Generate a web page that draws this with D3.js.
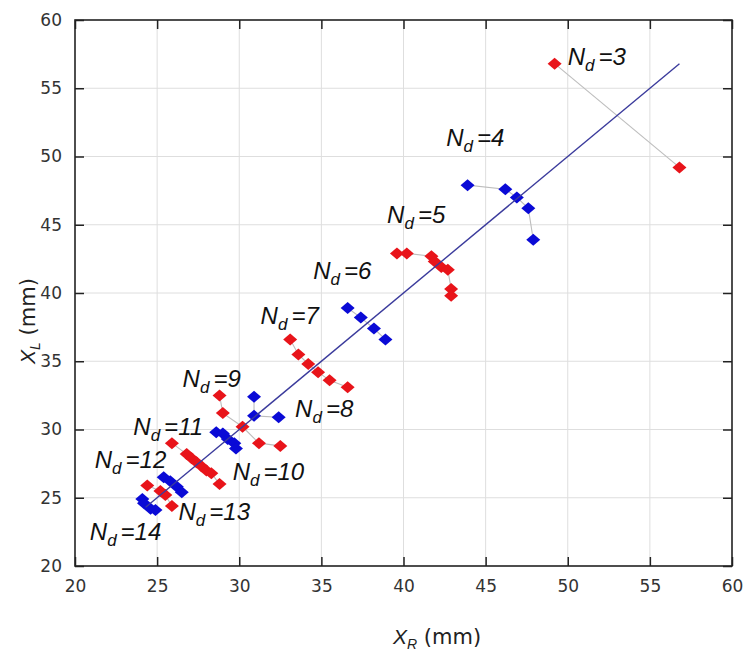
<!DOCTYPE html>
<html><head><meta charset="utf-8">
<script src="https://cdn.jsdelivr.net/npm/d3@7"></script>
<style>body{margin:0;background:#fff}</style>
</head><body>
<svg id="c" width="750" height="655"></svg>
<script>
// ---- data ----
const xTicks = [20,25,30,35,40,45,50,55,60];
const yTicks = [20,25,30,35,40,45,50,55,60];
const nd3  = [[49.2,56.8],[56.8,49.2]];
const nd4  = [[43.9,47.9],[46.2,47.6],[46.9,47.0],[47.6,46.2],[47.9,43.9]];
const nd5  = [[39.6,42.9],[40.2,42.9],[41.7,42.7],[41.9,42.3],[42.3,41.9],[42.7,41.7],[42.9,40.3],[42.9,39.8]];
const nd6  = [[36.6,38.9],[37.4,38.2],[38.2,37.4],[38.9,36.6]];
const nd7  = [[33.1,36.6],[33.6,35.5],[34.2,34.8],[34.8,34.2],[35.5,33.6],[36.6,33.1]];
const nd8  = [[30.9,32.4],[30.9,31.0],[32.4,30.9]];
const nd9  = [[28.8,32.5],[29.0,31.2],[30.2,30.2],[31.2,29.0],[32.5,28.8]];
const nd10 = [[28.6,29.8],[29.0,29.7],[29.3,29.3],[29.7,29.0],[29.8,28.6]];
const nd11 = [[25.9,29.0],[26.8,28.2],[27.1,27.9],[27.4,27.6],[27.7,27.3],[28.0,27.0],[28.3,26.8],[28.8,26.0]];
const nd12 = [[25.4,26.5],[25.8,26.2],[26.2,25.8],[26.5,25.4]];
const nd13 = [[24.4,25.9],[25.2,25.5],[25.5,25.2],[25.9,24.4]];
const nd14 = [[24.1,24.9],[24.2,24.6],[24.6,24.2],[24.9,24.1]];
const groups = [
  {nd:3, pts:nd3, lab:[50.0,56.7]},
  {nd:4, pts:nd4, lab:[42.6,50.8]},
  {nd:5, pts:nd5, lab:[39.0,45.1]},
  {nd:6, pts:nd6, lab:[34.5,41.0]},
  {nd:7, pts:nd7, lab:[31.3,37.7]},
  {nd:8, pts:nd8, lab:[33.4,30.9]},
  {nd:9, pts:nd9, lab:[26.55,33.1]},
  {nd:10, pts:nd10, lab:[29.6,26.3]},
  {nd:11, pts:nd11, lab:[23.55,29.6]},
  {nd:12, pts:nd12, lab:[21.2,27.2]},
  {nd:13, pts:nd13, lab:[26.3,23.4]},
  {nd:14, pts:nd14, lab:[20.9,21.9]}
];
const fitLine = [[24.3,24.3],[56.8,56.8]];

// ---- chart ----
const svg = d3.select("#c");
const L=75, R=732, T=20, B=566;
const x = d3.scaleLinear().domain([20,60]).range([L,R]);
const y = d3.scaleLinear().domain([20,60]).range([B,T]);
const RED="#e8141a", BLUE="#0a0ad6";

// grid
svg.append("g").selectAll("line").data(xTicks.slice(1,-1)).join("line")
  .attr("x1",d=>x(d)).attr("x2",d=>x(d)).attr("y1",T).attr("y2",B)
  .attr("stroke","#dedede").attr("stroke-width",1);
svg.append("g").selectAll("line").data(yTicks.slice(1,-1)).join("line")
  .attr("y1",d=>y(d)).attr("y2",d=>y(d)).attr("x1",L).attr("x2",R)
  .attr("stroke","#dedede").attr("stroke-width",1);

// axes with inward ticks
const tk=9;
const axB = svg.append("g").attr("transform",`translate(0,${B})`)
  .call(d3.axisBottom(x).tickValues(xTicks).tickSize(-tk).tickPadding(14).tickFormat(d3.format("d")));
const axT = svg.append("g").attr("transform",`translate(0,${T})`)
  .call(d3.axisTop(x).tickValues(xTicks).tickSize(-tk).tickFormat(""));
const axL = svg.append("g").attr("transform",`translate(${L},0)`)
  .call(d3.axisLeft(y).tickValues(yTicks).tickSize(-tk).tickPadding(13).tickFormat(d3.format("d")));
const axR = svg.append("g").attr("transform",`translate(${R},0)`)
  .call(d3.axisRight(y).tickValues(yTicks).tickSize(-tk).tickFormat(""));
[axB,axT,axL,axR].forEach(a=>{
  a.select(".domain").remove();
  a.selectAll(".tick line").attr("stroke","#222").attr("stroke-width",1.5);
  a.selectAll(".tick text").attr("fill","#333").style("font-family","DejaVu Sans").style("font-size","17px");
});
svg.append("rect").attr("x",L).attr("y",T).attr("width",R-L).attr("height",B-T)
  .attr("fill","none").attr("stroke","#222").attr("stroke-width",1.6);

// connecting lines
const line = d3.line().x(d=>x(d[0])).y(d=>y(d[1]));
svg.append("g").selectAll("path").data(groups).join("path")
  .attr("d",g=>line(g.pts)).attr("fill","none").attr("stroke","#bdbdbd").attr("stroke-width",1.1);

// diamonds
const dia = "M0,-6L7,0L0,6L-7,0Z";
groups.forEach(g=>{
  svg.append("g").selectAll("path").data(g.pts).join("path")
    .attr("d",dia).attr("transform",d=>`translate(${x(d[0])},${y(d[1])})`)
    .attr("fill", g.nd%2 ? RED : BLUE);
});

// fit line
svg.append("path").attr("d",line(fitLine)).attr("fill","none")
  .attr("stroke","#3b3b9c").attr("stroke-width",1.4);

// labels
groups.forEach(g=>{
  const t = svg.append("text").attr("x",x(g.lab[0])).attr("y",y(g.lab[1]))
    .style("font-family","Liberation Sans, Arial").style("font-style","italic").style("font-size","24px").attr("fill","#111");
  t.append("tspan").text("N");
  t.append("tspan").attr("dy",6).style("font-size","17px").text("d");
  t.append("tspan").attr("dy",-6).attr("dx",4).text("="+g.nd);
});

// axis titles
const xt = svg.append("text").attr("x",393).attr("y",644)
  .style("font-family","DejaVu Sans").style("font-size","21px").attr("fill","#222");
xt.append("tspan").style("font-family","Liberation Sans, Arial").style("font-style","italic").text("X");
xt.append("tspan").attr("dy",5).style("font-size","14px").style("font-family","Liberation Sans, Arial").style("font-style","italic").text("R");
xt.append("tspan").attr("dy",-5).text(" (mm)");

const yt = svg.append("text").attr("transform","translate(35,321) rotate(-90)").attr("text-anchor","middle")
  .style("font-family","DejaVu Sans").style("font-size","21px").attr("fill","#222");
yt.append("tspan").style("font-family","Liberation Sans, Arial").style("font-style","italic").text("X");
yt.append("tspan").attr("dy",5).style("font-size","14px").style("font-family","Liberation Sans, Arial").style("font-style","italic").text("L");
yt.append("tspan").attr("dy",-5).text(" (mm)");
</script>
</body></html>
